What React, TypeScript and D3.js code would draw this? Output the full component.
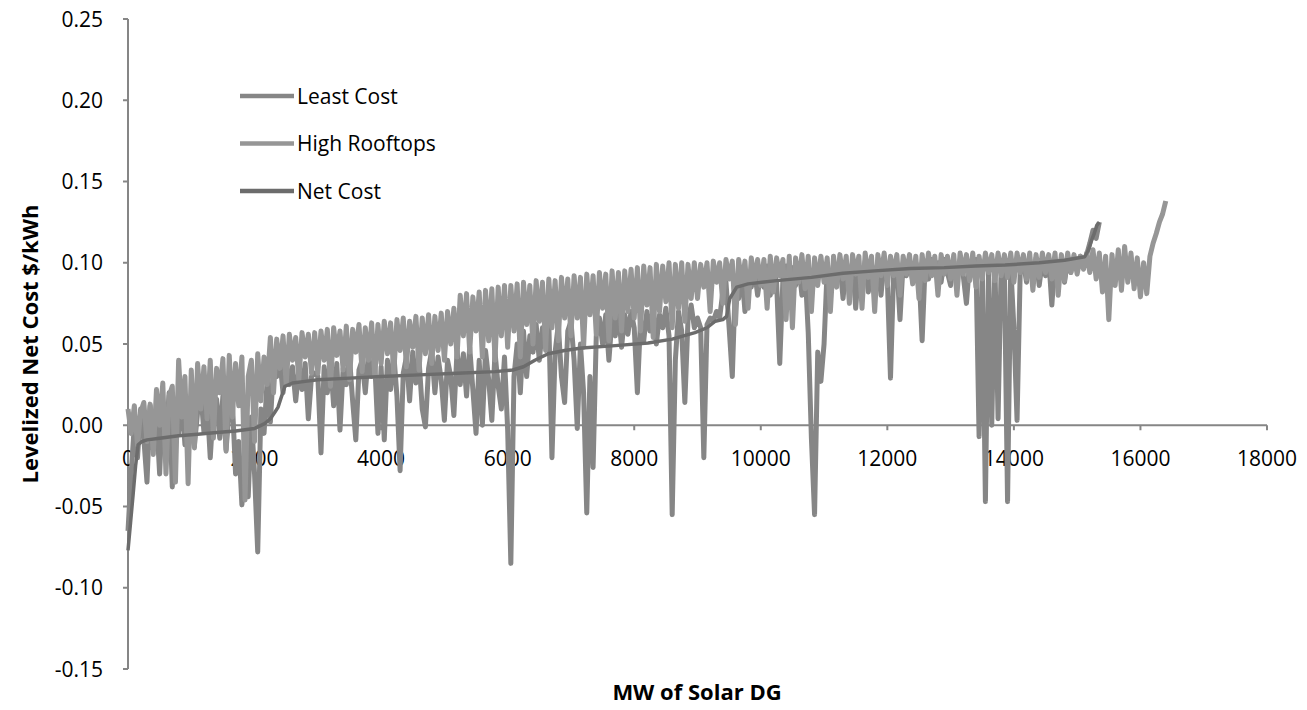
import React from 'react';
import * as d3 from 'd3';

// MW step between consecutive points of the two scenario series
const STEP_MW = 50;

const leastCost = [
  -0.065, -0.030, 0.000, -0.020, 0.010, -0.008, -0.035, 0.012, -0.015, 0.006, -0.030, 0.015, -0.010, 0.020, -0.038, 0.010, -0.005, 0.016, -0.012, 0.012,
  0.018, -0.012, 0.008, 0.020, -0.004, 0.014, -0.020, 0.012, 0.016, -0.008, 0.018, -0.015, 0.010, 0.014, -0.030, -0.010, -0.049, -0.025, -0.044, 0.005,
  -0.030, -0.078, 0.010, -0.005, 0.028, 0.002, 0.036, 0.030, 0.040, 0.020, 0.038, 0.025, 0.036, 0.015, 0.034, 0.022, 0.038, 0.004, 0.030, 0.032,
  0.030, -0.017, 0.036, 0.020, 0.040, 0.012, 0.038, -0.003, 0.035, 0.025, 0.042, 0.015, -0.009, 0.034, 0.040, 0.020, 0.044, 0.030, 0.038, -0.005,
  0.036, -0.009, 0.040, 0.022, 0.044, 0.018, -0.028, 0.032, 0.042, 0.015, 0.045, 0.026, 0.040, 0.010, -0.001, 0.035, 0.046, 0.020, 0.042, 0.028,
  0.003, 0.040, 0.030, 0.006, 0.046, 0.025, 0.044, 0.018, 0.048, 0.022, -0.005, 0.040, 0.000, 0.046, 0.028, 0.003, 0.045, 0.024, 0.010, 0.042,
  -0.003, -0.085, 0.030, 0.050, 0.020, 0.058, 0.030, 0.055, 0.045, 0.062, 0.040, 0.060, 0.050, 0.064, -0.020, 0.045, 0.062, 0.030, 0.014, 0.058,
  0.064, 0.040, -0.002, 0.050, 0.020, -0.054, 0.030, -0.026, 0.055, 0.066, 0.050, 0.068, 0.040, 0.066, 0.055, 0.070, 0.048, 0.068, 0.056, 0.070,
  0.060, 0.020, 0.065, 0.052, 0.070, 0.058, 0.072, 0.050, 0.068, 0.060, 0.072, 0.055, -0.055, 0.040, 0.070, 0.058, 0.014, 0.065, 0.074, 0.060,
  0.066, 0.060, -0.020, 0.062, 0.066, 0.064, 0.070, 0.066, 0.082, 0.088, 0.060, 0.030, 0.090, 0.078, 0.095, 0.070, 0.092, 0.085, 0.096, 0.080,
  0.094, 0.085, 0.098, 0.080, 0.096, 0.088, 0.038, 0.090, 0.098, 0.075, 0.097, 0.086, 0.099, 0.080, 0.096, 0.057, -0.008, -0.055, 0.045, 0.027,
  0.050, 0.097, 0.084, 0.099, 0.090, 0.100, 0.078, 0.098, 0.092, 0.100, 0.072, 0.098, 0.088, 0.101, 0.082, 0.099, 0.090, 0.100, 0.080, 0.101,
  0.090, 0.029, 0.095, 0.099, 0.065, 0.100, 0.092, 0.101, 0.089, 0.100, 0.094, 0.052, 0.101, 0.090, 0.102, 0.093, 0.100, 0.088, 0.102, 0.094,
  0.086, 0.101, 0.091, 0.102, 0.092, 0.075, 0.100, 0.095, 0.102, -0.007, 0.100, -0.047, 0.098, 0.000, 0.099, 0.004, 0.100, 0.095, -0.047, 0.098,
  0.060, 0.003, 0.095, 0.101, 0.088, 0.102, 0.090, 0.103, 0.086, 0.101, 0.092, 0.103, 0.074, 0.102, 0.090, 0.103, 0.088, 0.102, 0.094, 0.103,
  0.095, 0.104, 0.098, 0.105, 0.112, 0.120, 0.115, 0.125,
];

const highRooftops = [
  0.010, -0.005, 0.012, -0.012, 0.008, 0.014, -0.010, 0.013, -0.018, 0.022, 0.000, 0.026, -0.030, 0.018, 0.024, -0.035, 0.040, 0.005, 0.030, -0.036,
  0.034, -0.014, 0.038, 0.010, 0.036, 0.004, 0.040, -0.008, 0.035, 0.020, 0.041, -0.016, 0.043, 0.005, 0.038, 0.012, 0.042, -0.046, 0.030, 0.040,
  -0.010, 0.044, 0.015, 0.042, 0.025, 0.054, 0.020, 0.053, 0.035, 0.055, 0.025, 0.056, 0.040, 0.054, 0.028, 0.057, 0.042, 0.056, 0.032, 0.057,
  0.032, 0.058, 0.040, 0.059, 0.024, 0.060, 0.043, 0.058, 0.034, 0.061, 0.028, 0.059, 0.045, 0.062, 0.033, 0.060, 0.040, 0.063, 0.030, 0.062,
  0.038, 0.064, 0.044, 0.063, 0.032, 0.065, 0.046, 0.066, 0.036, 0.064, 0.048, 0.067, 0.034, 0.066, 0.044, 0.068, 0.038, 0.067, 0.046, 0.069,
  0.040, 0.070, 0.050, 0.072, 0.042, 0.080, 0.055, 0.081, 0.045, 0.079, 0.058, 0.082, 0.042, 0.083, 0.052, 0.084, 0.040, 0.085, 0.055, 0.086,
  0.048, 0.086, 0.058, 0.087, 0.042, 0.088, 0.062, 0.086, 0.050, 0.089, 0.064, 0.088, 0.046, 0.090, 0.060, 0.089, 0.052, 0.091, 0.066, 0.090,
  0.055, 0.092, 0.066, 0.091, 0.048, 0.093, 0.068, 0.092, 0.056, 0.094, 0.072, 0.093, 0.052, 0.095, 0.066, 0.094, 0.058, 0.095, 0.070, 0.096,
  0.066, 0.097, 0.058, 0.098, 0.074, 0.097, 0.054, 0.099, 0.070, 0.098, 0.076, 0.100, 0.060, 0.099, 0.072, 0.100, 0.064, 0.099, 0.078, 0.100,
  0.078, 0.099, 0.085, 0.100, 0.070, 0.101, 0.088, 0.100, 0.075, 0.102, 0.090, 0.101, 0.062, 0.102, 0.087, 0.101, 0.072, 0.103, 0.089, 0.102,
  0.086, 0.102, 0.072, 0.104, 0.082, 0.103, 0.092, 0.102, 0.065, 0.104, 0.060, 0.103, 0.088, 0.105, 0.084, 0.104, 0.070, 0.103, 0.086, 0.104,
  0.088, 0.103, 0.070, 0.104, 0.085, 0.105, 0.090, 0.104, 0.075, 0.105, 0.093, 0.104, 0.072, 0.106, 0.091, 0.104, 0.070, 0.105, 0.092, 0.106,
  0.086, 0.104, 0.092, 0.105, 0.080, 0.104, 0.093, 0.105, 0.087, 0.104, 0.078, 0.105, 0.089, 0.106, 0.092, 0.104, 0.080, 0.105, 0.093, 0.104,
  0.090, 0.105, 0.080, 0.106, 0.093, 0.105, 0.089, 0.106, 0.085, 0.104, 0.090, 0.106, 0.094, 0.105, 0.089, 0.106, 0.092, 0.105, 0.091, 0.106,
  0.088, 0.106, 0.094, 0.105, 0.090, 0.106, 0.083, 0.105, 0.091, 0.106, 0.094, 0.105, 0.090, 0.106, 0.080, 0.105, 0.089, 0.106, 0.094, 0.105,
  0.093, 0.104, 0.096, 0.106, 0.094, 0.108, 0.090, 0.106, 0.082, 0.104, 0.065, 0.105, 0.086, 0.108, 0.083, 0.110, 0.088, 0.106, 0.084, 0.103,
  0.079, 0.100, 0.081, 0.104, 0.112, 0.118, 0.125, 0.130, 0.138,
];

const netCostMW = [
  0, 40, 80, 120, 160, 220, 300, 500, 800, 1100,
  1400, 1700, 2000, 2160, 2250, 2320, 2370, 2420, 2480, 2600,
  2800, 3000, 3500, 4000, 4600, 5200, 5800, 6080, 6250, 6430,
  6640, 6900, 7170, 7700, 8220, 8600, 8960, 9150, 9280, 9400,
  9460, 9510, 9620, 9800, 10250, 10800, 11300, 11800, 12360, 12900,
  13400, 13860, 14400, 14800, 15120, 15180, 15230, 15270, 15310, 15350,
];
const netCost = [
  -0.077, -0.060, -0.043, -0.025, -0.012, -0.010, -0.009, -0.008, -0.0065, -0.0055,
  -0.0045, -0.0035, -0.002, 0.001, 0.004, 0.008, 0.011, 0.017, 0.024, 0.026,
  0.027, 0.028, 0.029, 0.030, 0.031, 0.032, 0.033, 0.034, 0.036, 0.040,
  0.044, 0.046, 0.0475, 0.049, 0.0506, 0.053, 0.057, 0.060, 0.064, 0.065,
  0.067, 0.078, 0.085, 0.087, 0.089, 0.091, 0.0935, 0.095, 0.0965, 0.097,
  0.098, 0.0986, 0.100, 0.1015, 0.1037, 0.108, 0.114, 0.118, 0.123, 0.125,
];

const yTicks = [-0.15, -0.10, -0.05, 0.0, 0.05, 0.10, 0.15, 0.20, 0.25];
const xTicks = [0, 2000, 4000, 6000, 8000, 10000, 12000, 14000, 16000, 18000];

const seriesNames = ['Least Cost', 'High Rooftops', 'Net Cost'];
const seriesColors = ['#868686', '#969696', '#6c6c6c'];

const W = 1307;
const H = 710;
const FONT = '"Open Sans", "Liberation Sans", sans-serif';

const App: React.FC = () => {
  const x = d3.scaleLinear().domain([0, 18000]).range([128, 1267]);
  const y = d3.scaleLinear().domain([-0.15, 0.25]).range([669, 19]);

  const line = d3.line<[number, number]>()
    .x(d => x(d[0]))
    .y(d => y(d[1]));

  const lcPts = leastCost.map((v, i) => [i * STEP_MW, v] as [number, number]);
  const hrPts = highRooftops.map((v, i) => [i * STEP_MW, v] as [number, number]);
  const ncPts = netCostMW.map((m, i) => [m, netCost[i]] as [number, number]);

  const axisColor = '#868686';
  const y0 = y(0);

  return (
    <svg width={W} height={H} style={{ position: 'absolute', left: 0, top: 0, background: '#fff' }}
      fontFamily={FONT}>
      {/* y axis */}
      <line x1={x(0)} x2={x(0)} y1={y(0.25)} y2={y(-0.15)} stroke={axisColor} strokeWidth={2} />
      {yTicks.map(t => (
        <g key={t}>
          <line x1={x(0) - 5} x2={x(0)} y1={y(t)} y2={y(t)} stroke={axisColor} strokeWidth={2} />
          <text x={103} y={y(t)} dy="0.36em" textAnchor="end" fontSize={21} fill="#000">
            {t.toFixed(2)}
          </text>
        </g>
      ))}

      {/* x axis at zero */}
      <line x1={x(0)} x2={x(18000)} y1={y0} y2={y0} stroke={axisColor} strokeWidth={2} />
      {xTicks.map(t => (
        <g key={t}>
          <line x1={x(t)} x2={x(t)} y1={y0} y2={y0 + 5} stroke={axisColor} strokeWidth={2} />
          <text x={x(t)} y={y0 + 41} textAnchor="middle" fontSize={21} fill="#000">{t}</text>
        </g>
      ))}

      {/* series */}
      <path d={line(lcPts) || ''} fill="none" stroke={seriesColors[0]} strokeWidth={5} strokeLinejoin="round" />
      <path d={line(hrPts) || ''} fill="none" stroke={seriesColors[1]} strokeWidth={5} strokeLinejoin="round" />
      <path d={line(ncPts) || ''} fill="none" stroke={seriesColors[2]} strokeWidth={3.5} strokeLinejoin="round" />

      {/* legend */}
      {seriesNames.map((name, i) => (
        <g key={name} transform={`translate(240,${96 + i * 47.5})`}>
          <line x1={0} x2={54} y1={0} y2={0} stroke={seriesColors[i]} strokeWidth={4.5} />
          <text x={57} y={0} dy="0.36em" fontSize={21} fill="#000">{name}</text>
        </g>
      ))}

      {/* axis titles */}
      <text transform={`translate(38,${(y(0.25) + y(-0.15)) / 2}) rotate(-90)`} textAnchor="middle"
        fontSize={22} fontWeight="bold" fill="#000">Levelized Net Cost $/kWh</text>
      <text x={697} y={700} textAnchor="middle" fontSize={22} fontWeight="bold" fill="#000">MW of Solar DG</text>
    </svg>
  );
};

export default App;
